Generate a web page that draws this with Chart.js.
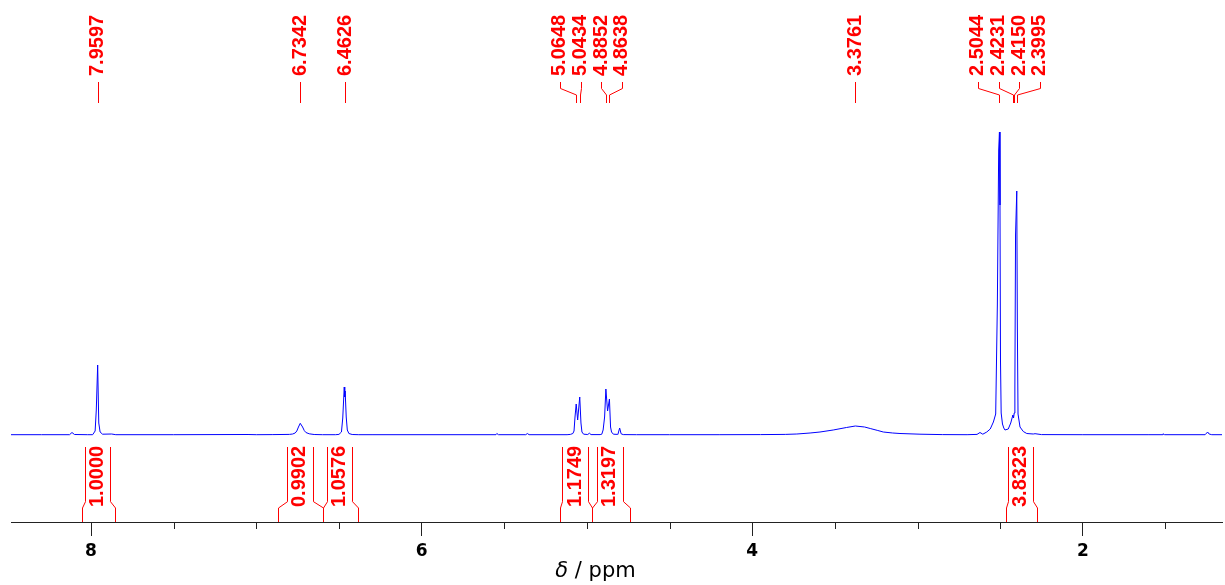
<!DOCTYPE html>
<html><head><meta charset="utf-8">
<script src="https://cdn.jsdelivr.net/npm/chart.js@4.4.1/dist/chart.umd.min.js"></script>
<style>html,body{margin:0;padding:0;background:#fff;} #wrap{width:1225px;height:585px;position:relative;}</style>
</head><body><div id="wrap"><canvas id="c"></canvas></div>
<script>
// chemical shift (ppm) of each spectrum point
const shiftPpm = [
  8.484, 8.30, 8.13, 8.115, 8.10, 8.02, 7.99, 7.975, 7.968, 7.9597, 7.953, 7.945, 7.93, 7.875, 7.85,
  7.50, 7.05, 7.00, 6.90, 6.80, 6.78, 6.765, 6.755, 6.745, 6.7342, 6.72, 6.71, 6.70, 6.68, 6.65, 6.60,
  6.52, 6.50, 6.485, 6.477, 6.468, 6.465, 6.4626, 6.456, 6.4495, 6.44, 6.42, 6.38, 6.30,
  5.55, 5.545, 5.535, 5.37, 5.36, 5.35, 5.12, 5.10, 5.085, 5.078, 5.072, 5.0648, 5.056, 5.0434,
  5.036, 5.030, 5.02, 4.995, 4.985, 4.975, 4.92, 4.91, 4.902, 4.893, 4.8852, 4.875, 4.8638, 4.857,
  4.851, 4.84, 4.815, 4.812, 4.802, 4.793, 4.78, 4.70, 4.50, 4.20, 3.95, 3.80, 3.73, 3.65, 3.59,
  3.51, 3.43, 3.3761, 3.32, 3.286, 3.24, 3.207, 3.15, 3.106, 2.985, 2.85, 2.70, 2.64, 2.622, 2.605,
  2.581, 2.56, 2.541, 2.527, 2.517, 2.509, 2.5044, 2.501, 2.498, 2.494, 2.486, 2.478, 2.471, 2.451,
  2.436, 2.4231, 2.419, 2.4150, 2.411, 2.407, 2.3995, 2.396, 2.392, 2.380, 2.36, 2.339, 2.30, 2.289,
  2.25, 2.00, 1.60, 1.52, 1.515, 1.505, 1.26, 1.245, 1.236, 1.22, 1.158
];
// intensity (arbitrary units) at each point above
const intensity = [
  0.3, 0.3, 0.3, 2.5, 0.5, 0.3, 0.3, 4, 25, 70, 12, 3, 0.8, 1, 0.3,
  0.3, 0.5, 0.3, 0.4, 0.6, 1, 2, 4, 8, 11.7, 8, 4.5, 2.5, 1.2, 0.5, 0.3,
  0.3, 0.6, 3, 17, 48, 38, 44, 18, 5, 1.5, 0.5, 0.3, 0.3,
  0.3, 1.5, 0.3, 0.3, 1.5, 0.3, 0.3, 0.6, 1.5, 4, 18, 31, 15, 38,
  12, 3, 0.8, 0.5, 1.8, 0.4, 0.4, 0.8, 5, 18, 46, 24, 36, 8,
  3, 0.8, 0.6, 1, 7, 1.2, 0.4, 0.3, 0.3, 0.3, 0.4, 0.6, 1, 2, 3,
  5, 7.5, 9, 8, 6.5, 4.5, 3, 2, 1.5, 0.8, 0.4, 0.3, 0.6, 2.5, 0.8,
  3, 6, 13, 21, 130, 285, 303, 230, 75, 22, 11, 7, 5, 6,
  12, 20, 17, 22, 48, 200, 244, 110, 21, 8, 3.5, 1.5, 1, 1.3,
  0.4, 0.3, 0.3, 0.3, 1.2, 0.3, 0.3, 3, 1, 0.3, 0.3
];
// labelled peaks
const peakPpm = [7.9597, 6.7342, 6.4626, 5.0648, 5.0434, 4.8852, 4.8638, 3.3761, 2.5044, 2.4231, 2.4150, 2.3995];
// integrals
const integralFrom = [8.053, 6.867, 6.594, 5.161, 4.971, 2.465];
const integralTo   = [7.857, 6.594, 6.387, 4.971, 4.739, 2.279];
const integralValues = [1.0000, 0.9902, 1.0576, 1.1749, 1.3197, 3.8323];
// axis ticks
const tickValues = [8, 7.5, 7, 6.5, 6, 5.5, 5, 4.5, 4, 3.5, 3, 2.5, 2, 1.5];
const tickLabels = ['8', '', '', '', '6', '', '', '', '4', '', '', '', '2', ''];
const axisTitleParts = ['δ', ' / ppm'];

function tickIndex(v) { return tickValues.findIndex(t => Math.abs(t - v) < 1e-9); }
function labelFor(v) { const i = tickIndex(v); return i >= 0 ? tickLabels[i] : ''; }
function isMajor(v) { return labelFor(v) !== ''; }

const RED = '#ff0000';
const LABEL_FONT = 'bold 20px "Liberation Sans", Arial, sans-serif';
const TITLE_SIZE = 21;

const annot = {
  id: 'annot',
  afterDraw(chart) {
    const ctx = chart.ctx, xs = chart.scales.x, area = chart.chartArea;
    const A = v => Math.round(v) + 0.5;
    ctx.save();
    // minor ticks
    ctx.strokeStyle = '#222'; ctx.lineWidth = 1;
    tickValues.forEach(v => {
      if (!isMajor(v)) {
        const x = A(xs.getPixelForValue(v));
        ctx.beginPath(); ctx.moveTo(x, area.bottom); ctx.lineTo(x, area.bottom + 7); ctx.stroke();
      }
    });
    // axis title
    ctx.fillStyle = '#000';
    ctx.textBaseline = 'alphabetic'; ctx.textAlign = 'left';
    const fI = 'italic ' + TITLE_SIZE + 'px "DejaVu Sans", Verdana, sans-serif';
    const fR = TITLE_SIZE + 'px "DejaVu Sans", Verdana, sans-serif';
    ctx.font = fI;
    const w1 = ctx.measureText(axisTitleParts[0]).width;
    ctx.font = fR;
    const w2 = ctx.measureText(axisTitleParts[1]).width;
    const tx = 595.5 - (w1 + w2) / 2;
    ctx.font = fI;
    ctx.fillText(axisTitleParts[0], tx, 577);
    ctx.font = fR;
    ctx.fillText(axisTitleParts[1], tx + w1, 577);

    // peak labels
    ctx.strokeStyle = RED; ctx.fillStyle = RED; ctx.font = LABEL_FONT;
    const px = peakPpm.map(p => xs.getPixelForValue(p));
    const order = px.map((x, i) => i).sort((a, b) => px[a] - px[b]);
    const gap = 20.6;
    let groups = order.map(i => ({ items: [i] }));
    const center = g => g.items.reduce((s, i) => s + px[i], 0) / g.items.length;
    let merged = true;
    while (merged) {
      merged = false;
      for (let k = 0; k < groups.length - 1; k++) {
        const a = groups[k], b = groups[k + 1];
        const aR = center(a) + (a.items.length - 1) / 2 * gap;
        const bL = center(b) - (b.items.length - 1) / 2 * gap;
        if (bL - aR < gap) { a.items = a.items.concat(b.items); groups.splice(k + 1, 1); merged = true; break; }
      }
    }
    const labelX = [];
    groups.forEach(g => {
      const c = center(g) - 2;
      g.items.forEach((i, j) => { labelX[i] = (g.items.length > 1 ? c : c + 2) + (j - (g.items.length - 1) / 2) * gap; });
    });
    peakPpm.forEach((p, i) => {
      const lx = labelX[i], x = px[i];
      ctx.beginPath();
      if (Math.abs(lx - x) < 0.6) {
        ctx.moveTo(A(x), 82); ctx.lineTo(A(x), 103);
      } else {
        ctx.moveTo(A(lx), 82); ctx.lineTo(A(lx), 88.5); ctx.lineTo(A(x), 95); ctx.lineTo(A(x), 103);
      }
      ctx.stroke();
      ctx.save();
      ctx.translate(lx, 76); ctx.rotate(-Math.PI / 2);
      ctx.textAlign = 'left'; ctx.textBaseline = 'middle';
      ctx.fillText(p.toFixed(4), 0, 0);
      ctx.restore();
    });

    // integrals
    const yb = area.bottom;
    integralValues.forEach((v, i) => {
      const xa = xs.getPixelForValue(integralFrom[i]), xb = xs.getPixelForValue(integralTo[i]);
      const c = (xa + xb) / 2 - 1;
      const bl = c - 12.7, br = c + 12.7;
      ctx.beginPath();
      ctx.moveTo(A(xa), yb); ctx.lineTo(A(xa), yb - 14); ctx.lineTo(A(bl), yb - 20.3); ctx.lineTo(A(bl), yb - 75);
      ctx.moveTo(A(xb), yb); ctx.lineTo(A(xb), yb - 14); ctx.lineTo(A(br), yb - 20.3); ctx.lineTo(A(br), yb - 75);
      ctx.stroke();
      ctx.save();
      ctx.translate(c, yb - 15); ctx.rotate(-Math.PI / 2);
      ctx.textAlign = 'left'; ctx.textBaseline = 'middle';
      ctx.fillText(v.toFixed(4), 0, 0);
      ctx.restore();
    });
    ctx.restore();
  }
};

new Chart(document.getElementById('c'), {
  type: 'line',
  data: {
    datasets: [{
      data: shiftPpm.map((p, i) => ({ x: p, y: intensity[i] })),
      borderColor: '#0000ff', borderWidth: 1, pointRadius: 0, tension: 0, fill: false
    }]
  },
  options: {
    responsive: true, maintainAspectRatio: false, animation: false, devicePixelRatio: 1,
    layout: { padding: { top: 110, left: 11, right: 3, bottom: 0 } },
    plugins: { legend: { display: false }, tooltip: { enabled: false } },
    scales: {
      x: {
        type: 'linear', reverse: true, min: 1.158, max: 8.484,
        afterBuildTicks: s => { s.ticks = tickValues.map(v => ({ value: v })); },
        afterFit: s => { s.height = 63; },
        grid: {
          drawOnChartArea: false, drawTicks: true, tickLength: 14, tickWidth: 1,
          tickColor: c => (c.tick && isMajor(c.tick.value)) ? '#222' : 'rgba(0,0,0,0)'
        },
        border: { display: true, color: '#222', width: 1 },
        ticks: {
          autoSkip: false, maxRotation: 0, padding: 5, color: '#000',
          font: { family: '"DejaVu Sans", Verdana, sans-serif', size: 17, weight: 'bold' },
          callback: v => labelFor(v)
        }
      },
      y: { display: false, min: -87, max: 325 }
    }
  },
  plugins: [annot]
});
</script>
</body></html>
